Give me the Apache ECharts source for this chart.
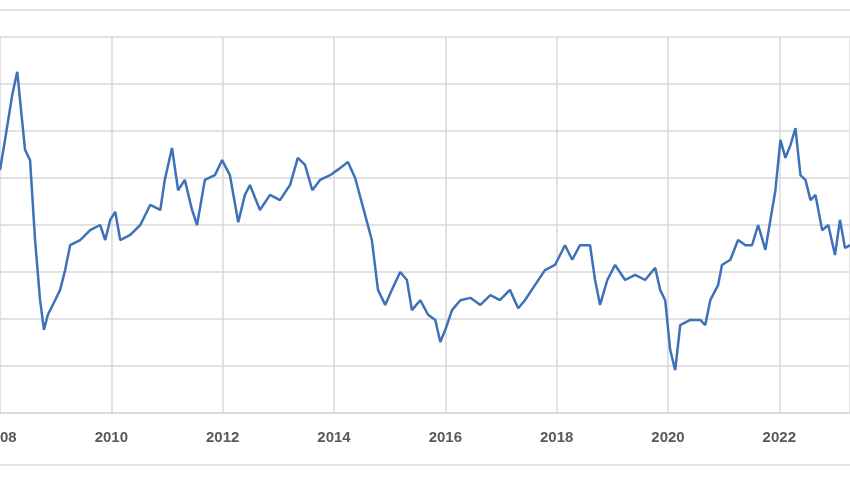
<!DOCTYPE html>
<html><head><meta charset="utf-8">
<script src="https://cdn.jsdelivr.net/npm/echarts@6/dist/echarts.min.js"></script>
<style>html,body{margin:0;padding:0;background:#fff}#c{width:850px;height:480px}</style>
</head><body><div id="c"></div>
<script>
const years = [2008,2008.09,2008.22,2008.31,2008.36,2008.45,2008.54,2008.63,2008.72,2008.79,2008.86,2008.99,2009.08,2009.17,2009.26,2009.44,2009.62,2009.80,2009.89,2009.98,2010.07,2010.16,2010.34,2010.52,2010.70,2010.88,2010.96,2011.09,2011.20,2011.32,2011.45,2011.54,2011.68,2011.86,2011.99,2012.13,2012.28,2012.40,2012.49,2012.67,2012.85,2013.03,2013.21,2013.35,2013.48,2013.61,2013.75,2013.93,2014.11,2014.25,2014.38,2014.56,2014.68,2014.79,2014.92,2015.04,2015.19,2015.31,2015.40,2015.55,2015.69,2015.82,2015.91,2016.00,2016.12,2016.27,2016.45,2016.63,2016.81,2016.98,2017.16,2017.31,2017.43,2017.61,2017.79,2017.97,2018.15,2018.28,2018.42,2018.60,2018.69,2018.78,2018.91,2019.05,2019.23,2019.41,2019.59,2019.77,2019.86,2019.95,2020.04,2020.13,2020.22,2020.40,2020.58,2020.67,2020.76,2020.90,2020.97,2021.12,2021.26,2021.39,2021.51,2021.62,2021.75,2021.87,2021.93,2022.02,2022.11,2022.20,2022.29,2022.38,2022.47,2022.56,2022.65,2022.77,2022.88,2023.00,2023.09,2023.18,2023.27];
const values = [5.17,5.81,6.77,7.26,6.66,5.60,5.38,3.68,2.40,1.77,2.09,2.40,2.62,3.04,3.57,3.68,3.89,4.00,3.68,4.11,4.28,3.68,3.79,4.00,4.43,4.32,4.96,5.64,4.74,4.96,4.32,4.00,4.96,5.06,5.38,5.06,4.06,4.64,4.85,4.32,4.64,4.53,4.85,5.43,5.28,4.74,4.96,5.06,5.21,5.34,5.00,4.21,3.68,2.62,2.30,2.62,3.00,2.83,2.19,2.40,2.09,1.98,1.51,1.77,2.19,2.40,2.45,2.30,2.51,2.40,2.62,2.23,2.40,2.72,3.04,3.15,3.57,3.26,3.57,3.57,2.83,2.30,2.83,3.15,2.83,2.94,2.83,3.09,2.62,2.40,1.34,0.91,1.87,1.98,1.98,1.87,2.40,2.72,3.15,3.26,3.68,3.57,3.57,4.00,3.47,4.32,4.74,5.81,5.43,5.70,6.06,5.06,4.96,4.53,4.64,3.89,4.00,3.36,4.11,3.51,3.57];
const xTicks = ['2008','2010','2012','2014','2016','2018','2020','2022'];
const data = years.map((y,i)=>[y,values[i]]);
const chart = echarts.init(document.getElementById('c'));
chart.setOption({
  animation:false,
  grid:{left:0,right:0,top:37,bottom:67,containLabel:false,outerBoundsMode:'none'},
  xAxis:{type:'value',min:2008,max:2023.27,interval:2,
    axisLine:{show:true,lineStyle:{color:'#d9d9d9',width:1.5}},axisTick:{show:false},
    splitLine:{show:true,lineStyle:{color:'#d9d9d9',width:1.5}},
    axisLabel:{color:'#595959',fontSize:15,fontWeight:'bold',fontFamily:'Liberation Sans',margin:17,
      showMaxLabel:false,formatter:v=>xTicks.includes(String(v))?String(v):''}},
  yAxis:{type:'value',min:0,max:8,interval:1,axisLabel:{show:false},axisLine:{show:false},axisTick:{show:false},
    splitLine:{lineStyle:{color:'#d9d9d9',width:1.5}}},
  graphic:[
    {type:'line',shape:{x1:0,y1:10,x2:850,y2:10},style:{stroke:'#d9d9d9',lineWidth:1.5}},
    {type:'line',shape:{x1:0,y1:465,x2:850,y2:465},style:{stroke:'#d9d9d9',lineWidth:1.5}}
  ],
  series:[{type:'line',data:data,showSymbol:false,lineStyle:{color:'#3d72b8',width:2.5}}]
});
</script></body></html>
